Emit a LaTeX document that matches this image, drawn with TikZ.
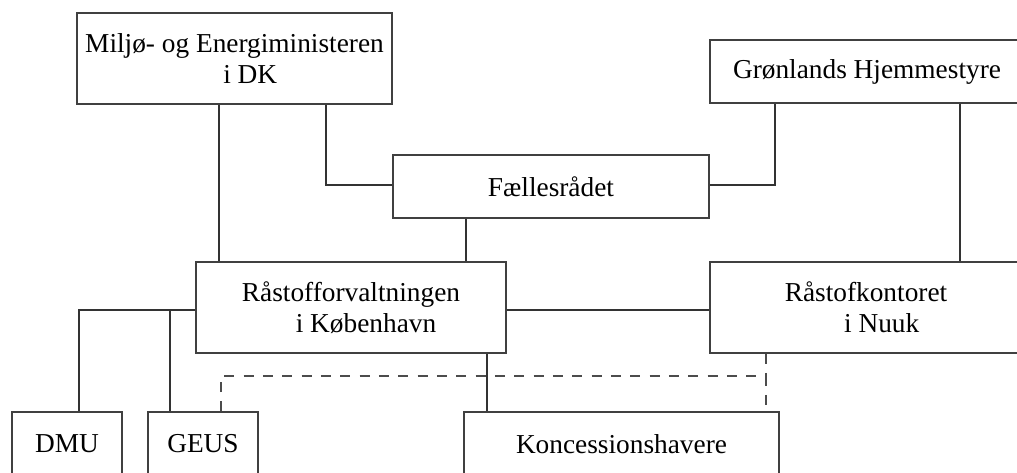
\documentclass[tikz,border=0pt]{standalone}
\usepackage{fontspec}
\setmainfont{Liberation Serif}
\begin{document}
\begin{tikzpicture}[x=0.75pt,y=-0.75pt,
  box/.style={draw=black!75,line width=0.8pt,fill=white,inner sep=0pt,align=center,
    font=\fontsize{20.5pt}{23pt}\selectfont},
  conn/.style={draw=black!80,line width=0.8pt},
  dconn/.style={draw=black!70,line width=0.8pt,dash pattern=on 7.5pt off 7pt}]
\useasboundingbox (0,0) rectangle (1017,472);
\fill[white] (0,0) rectangle (1017,472);
% column and row helpers
\coordinate (cA) at (219,0);
\coordinate (cB) at (326,0);
\coordinate (cC) at (775,0);
\coordinate (cD) at (960,0);
\coordinate (cE) at (466,0);
\coordinate (cF) at (79,0);
\coordinate (cG) at (170,0);
\coordinate (cH) at (487,0);
\coordinate (cI) at (221,0);
\coordinate (cJ) at (766,0);
\coordinate (r1) at (0,185);
\coordinate (r2) at (0,310);
\coordinate (r3) at (0,376);
% connectors (drawn first, boxes on top)
\draw[conn] (cA |- 0,104) -- (cA |- 0,262);
\coordinate (m1) at (cB |- 0,104);
\coordinate (m2) at (cB |- r1);
\coordinate (g1) at (cC |- 0,103);
\coordinate (g2) at (cC |- r1);
\node[box,minimum width=315*0.75pt,minimum height=91*0.75pt] (mil) at (234.5,58.5)
  {Miljø- og Energiministeren\\\hspace*{1.15em}i DK};
\node[box,minimum width=314*0.75pt,minimum height=63*0.75pt] (gro) at (867,71.5)
  {Grønlands Hjemmestyre};
\node[box,minimum width=316*0.75pt,minimum height=63*0.75pt] (fae) at (551,186.5)
  {Fællesrådet};
\node[box,minimum width=310*0.75pt,minimum height=91*0.75pt] (rak) at (351,307.5)
  {Råstofforvaltningen\\\hspace*{1.1em}i København};
\node[box,minimum width=312*0.75pt,minimum height=91*0.75pt] (rkn) at (866,307.5)
  {Råstofkontoret\\\hspace*{1.15em}i Nuuk};
\node[box,minimum width=110*0.75pt,minimum height=64*0.75pt] (dmu) at (67,444)
  {DMU};
\node[box,minimum width=110*0.75pt,minimum height=64*0.75pt] (geus) at (203,444)
  {GEUS};
\node[box,minimum width=315*0.75pt,minimum height=64*0.75pt] (kon) at (621.5,444)
  {Koncessionshavere};
% connectors between named nodes
\draw[conn] (mil.south -| cA) -- (rak.north -| cA);
\draw[conn] (mil.south -| cB) |- (fae.west |- r1);
\draw[conn] (gro.south -| cC) |- (fae.east |- r1);
\draw[conn] (gro.south -| cD) -- (rkn.north -| cD);
\draw[conn] (fae.south -| cE) -- (rak.north -| cE);
\draw[conn] (rak.west |- r2) -| (dmu.north -| cF);
\draw[conn] (cG |- r2) -- (geus.north -| cG);
\draw[conn] (rak.east |- r2) -- (rkn.west |- r2);
\draw[conn] (rak.south -| cH) -- (kon.north -| cH);
\draw[dconn] (geus.north -| cI) |- (cJ |- r3) -- (kon.north -| cJ);
\draw[dconn] (rkn.south -| cJ) -- (cJ |- r3);
\end{tikzpicture}
\end{document}
